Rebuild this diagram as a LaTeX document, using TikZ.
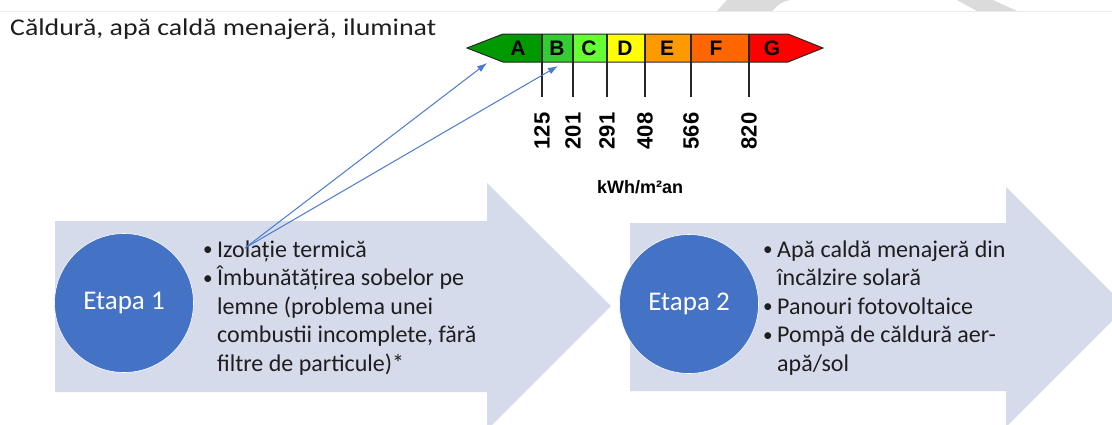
\documentclass[tikz,border=0pt]{standalone}
\usepackage{fontspec}
\setmainfont{Carlito}
\newfontfamily\labelfont{Liberation Sans}
\usepackage{tikz}
\usetikzlibrary{positioning}
\usetikzlibrary{arrows.meta}
\definecolor{stagebg}{HTML}{D6DBEC}
\definecolor{stageblue}{HTML}{4472C4}
\definecolor{linkblue}{HTML}{4A7BD0}
\definecolor{textdark}{HTML}{1E1E1E}
\definecolor{clsA}{HTML}{009A00}
\definecolor{clsB}{HTML}{33CC33}
\definecolor{clsC}{HTML}{66FF33}
\definecolor{clsD}{HTML}{FFFF00}
\definecolor{clsE}{HTML}{FF9900}
\definecolor{clsF}{HTML}{FF6600}
\definecolor{clsG}{HTML}{FF0000}
\newcommand{\bul}{\makebox[14pt][l]{\raisebox{1.2pt}{\scalebox{0.8}{\textbullet}}}}
\tikzset{
    stagearrow/.style = {fill=stagebg,draw=none},
    stagecirc/.style = {circle,fill=stageblue,draw=white,semithick,minimum size=139pt,inner sep=0pt,text=white,font=\fontsize{27}{30}\selectfont},
    bullets/.style = {anchor=north west,inner sep=0pt,text=textdark,font=\fontsize{24}{28.5}\selectfont},
    clsletter/.style = {inner sep=0pt,font=\labelfont\bfseries\fontsize{21}{22}\selectfont},
    ticknum/.style = {rotate=90,inner sep=0pt,font=\labelfont\bfseries\fontsize{22}{23}\selectfont},
    tickline/.style = {draw=black!85,line width=1.5pt},
    edgeb/.style = {-{Latex[length=10pt,width=7pt]},line width=1pt,linkblue}, % to the class
    wmark/.style = {fill=black!14}
}

\begin{document}
\begin{tikzpicture}[x=1pt,y=-1pt]
  \useasboundingbox (0,0) rectangle (1112,424);
  \clip (0,0) rectangle (1112,424);
  \fill[white] (0,0) rectangle (1112,424);
  % page edge
  \fill[wmark] (717,11) -- (727,0) -- (790,0) .. controls (780,3) .. (772,11) -- cycle;
  \fill[wmark] (957,0) -- (993,0) -- (1017,11) -- (977,11) -- cycle;
  \draw[black!8] (0,11) -- (1112,11);
  \node[anchor=base west,inner sep=0pt,text=textdark,font=\fontsize{24}{26}\selectfont] (title) at (10,35) {\scalebox{1.16}[1]{Căldură, apă caldă menajeră, iluminat}};

  % stages
  \fill[stagearrow] (55,221) -- (487,221) -- (487,183) -- (611,306) -- (487,430) -- (487,392) -- (55,392) -- cycle;
  \fill[stagearrow] (630,223) -- (1006,223) -- (1006,187) -- (1126,307) -- (1006,427) -- (1006,391) -- (630,391) -- cycle;
  \node[stagecirc] (etapa1) at (124,303) {Etapa 1};
  \node[stagecirc] (etapa2) at (689,304) {Etapa 2};
  \node[bullets] (list1) at (203,237) {\begin{tabular}{@{}l@{}l@{}}
    \bul & Izolație termică\\
    \bul & Îmbunătățirea sobelor pe\\
     & lemne (problema unei\\
     & combustii incomplete, fără\\
     & filtre de particule)*
  \end{tabular}};
  \node[bullets] (list2) at (763,237) {\begin{tabular}{@{}l@{}l@{}}
    \bul & Apă caldă menajeră din\\
     & încălzire solară\\
    \bul & Panouri fotovoltaice\\
    \bul & Pompă de căldură aer-\\
     & apă/sol
  \end{tabular}};

  % energy label
  \fill[clsA] (467,48) -- (503,34) -- (542,34) -- (542,62) -- (503,62) -- cycle;
  \foreach \xl/\xr/\col in {542/573/clsB,573/607/clsC,607/645/clsD,645/691/clsE,691/749/clsF}
    \fill[\col] (\xl,34) rectangle (\xr,62);
  \fill[clsG] (749,34) -- (788,34) -- (823,48) -- (788,62) -- (749,62) -- cycle;
  \draw[black!85,line width=1pt] (467,48) -- (503,34) -- (788,34) -- (823,48) -- (788,62) -- (503,62) -- cycle;
  \foreach \xt/\val in {542/125,573/201,607/291,645/408,691/566,749/820} {
    \draw[tickline] (\xt,34) -- (\xt,97);
    \node[ticknum] (n\val) at (\xt,131) {\val};
  }
  \node[clsletter] (la) at (518,48) {A};
  \node[clsletter] (lb) at (557,48) {B};
  \node[clsletter] (lc) at (589,48) {C};
  \node[clsletter] (ld) at (625,48) {D};
  \node[clsletter] (le) at (667,48) {E};
  \node[clsletter] (lf) at (716,48) {F};
  \node[clsletter] (lg) at (772,48) {G};
  \node[inner sep=0pt,font=\labelfont\bfseries\fontsize{18}{19}\selectfont] (unit) at (640,187) {kWh/m²an};

  % links
  \coordinate (src) at (245,248);
  \coordinate (tipa) at (487,63);
  \coordinate (tipb) at (558,66);
  \draw[edgeb] (src) -- (tipa);
  \draw[edgeb] (src) -- (tipb);
\end{tikzpicture}
\end{document}
